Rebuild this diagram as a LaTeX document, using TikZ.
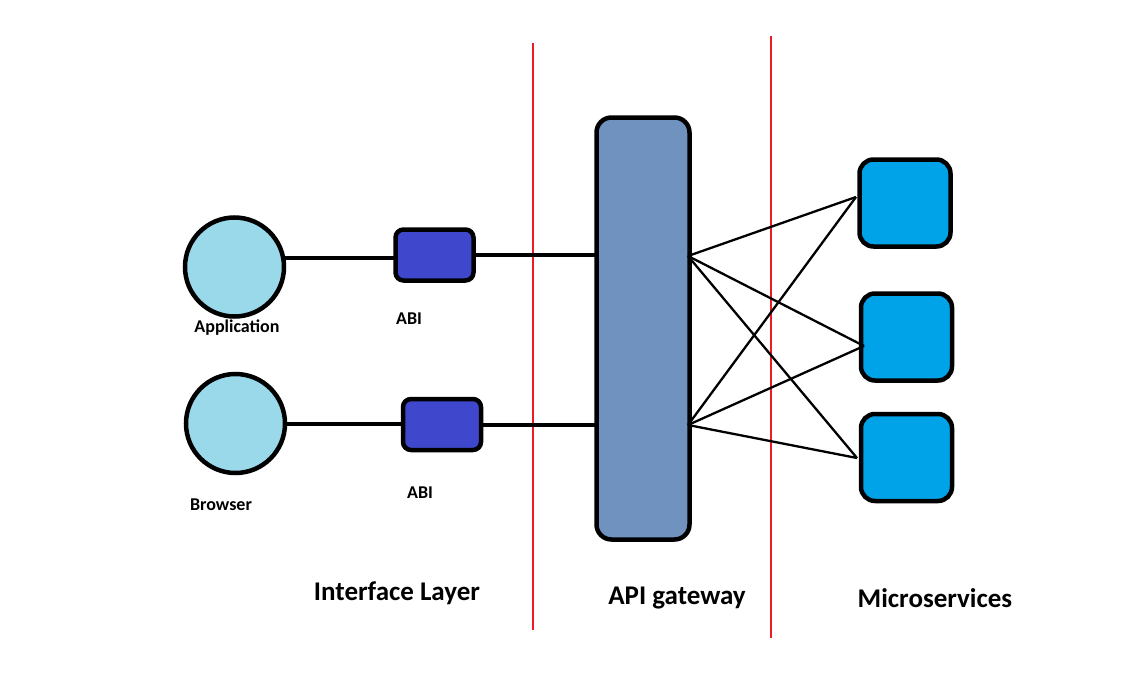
\documentclass[tikz,border=0pt]{standalone}
\usepackage{fontspec}
\setmainfont{Carlito}
\definecolor{circfill}{RGB}{153,217,234}
\definecolor{abifill}{RGB}{63,72,204}
\definecolor{gwfill}{RGB}{112,146,190}
\definecolor{msfill}{RGB}{0,162,232}
\definecolor{sepred}{RGB}{237,28,36}
\begin{document}
\begin{tikzpicture}[x=1pt,y=-1pt,
  client/.style={circle,draw=black,line width=4.5pt,fill=circfill,minimum size=99pt,inner sep=0pt,outer sep=0pt},
  abibox/.style={rectangle,rounded corners=8pt,draw=black,line width=4.5pt,fill=abifill,minimum width=78pt,minimum height=51pt,inner sep=0pt,outer sep=0pt},
  gwbox/.style={rectangle,rounded corners=15pt,draw=black,line width=4.5pt,fill=gwfill,minimum width=93pt,minimum height=422pt,inner sep=0pt,outer sep=0pt},
  msbox/.style={rectangle,rounded corners=14pt,draw=black,line width=4.5pt,fill=msfill,minimum width=91pt,minimum height=87pt,inner sep=0pt,outer sep=0pt},
  thick link/.style={draw=black,line width=4pt},
  thin link/.style={draw=black,line width=2.3pt},
  sep/.style={draw=sepred,line width=2.8pt},
  small/.style={font=\fontsize{18}{21}\selectfont\bfseries,inner sep=0pt},
  big/.style={font=\fontsize{27}{32}\selectfont\bfseries,inner sep=0pt}]
\useasboundingbox (0,0) rectangle (1136,677);
% separators
\draw[sep] (533,43) -- (533,630);
\draw[sep] (771,36) -- (771,638);
% nodes
\node[client] (app) at (234.5,267) {};
\node[client] (br) at (235.5,423.5) {};
\node[abibox] (abi1) at (434.5,255) {};
\node[abibox] (abi2) at (442,424.5) {};
\node[gwbox] (gw) at (643,328.5) {};
\node[msbox] (m1) at (905,203) {};
\node[msbox] (m2) at (906.5,337) {};
\node[msbox] (m3) at (906.5,457.5) {};
% labels
\node[small] (lapp) at (237,328) {Application};
\node[small] (labi1) at (409,319) {ABI};
\node[small] (lbr) at (221,505) {Browser};
\node[small] (labi2) at (420,493) {ABI};
\node[big] (lif) at (397,593) {Interface Layer};
\node[big] (lgw) at (677,598) {API gateway};
\node[big] (lms) at (935,598) {Microservices};
% connection points
\coordinate (g1) at (688,256);
\coordinate (g2) at (688,425);
\coordinate (t1) at (856,197);
\coordinate (t2) at (864,346);
\coordinate (t3) at (857,458);
% thick links
\draw[thick link] (app.10) -- (app.10 -| abi1.west);
\draw[thick link] (abi1.east) -- (abi1.east -| gw.west);
\draw[thick link] (br.east) -- (br.east -| abi2.west);
\draw[thick link] (abi2.east) -- (abi2.east -| gw.west);
% thin links
\draw[thin link] (g1) -- (t1);
\draw[thin link] (g1) -- (t2);
\draw[thin link] (g1) -- (t3);
\draw[thin link] (g2) -- (t1);
\draw[thin link] (g2) -- (t2);
\draw[thin link] (g2) -- (t3);
\end{tikzpicture}
\end{document}
